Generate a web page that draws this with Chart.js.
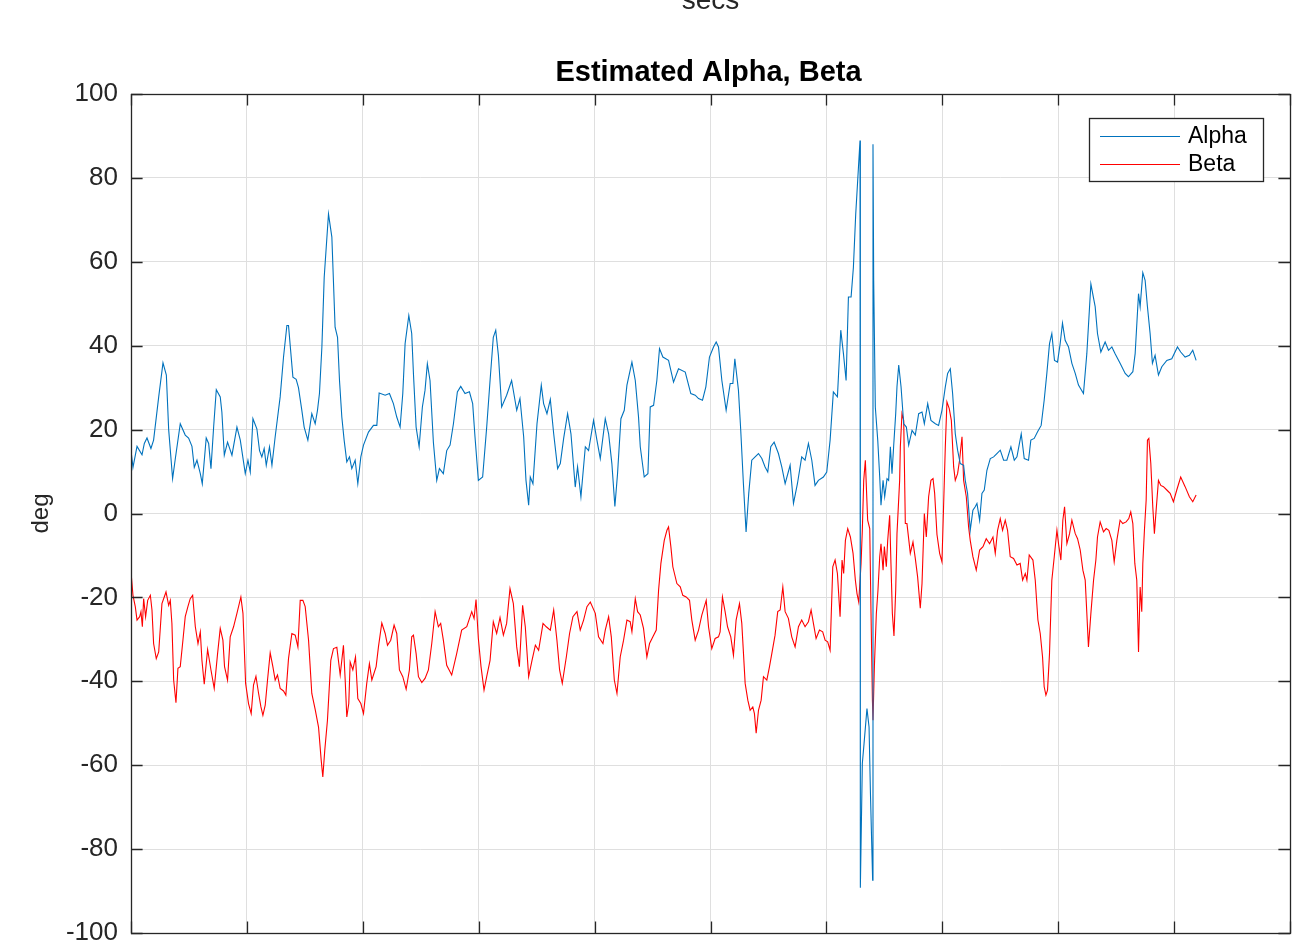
<!DOCTYPE html>
<html>
<head>
<meta charset="utf-8">
<title>Estimated Alpha, Beta</title>
<script src="https://cdn.jsdelivr.net/npm/chart.js@4.4.1/dist/chart.umd.min.js"></script>
<style>
    html, body { margin: 0; padding: 0; background: #fff; }
    #wrap { width: 1306px; height: 946px; }
</style>
</head>
<body>
<div id="wrap"><canvas id="graph" width="1306" height="946"></canvas></div>
<script>

// time (grid units, 10 per grid cell) and values in deg
const alphaT = [
    0, 0.17, 0.52, 0.95, 1.15, 1.38, 1.72, 1.95, 2.39, 2.76,
    3.05, 3.25, 3.59, 3.82, 4.25, 4.68, 4.97, 5.26, 5.46, 5.69,
    5.98, 6.15, 6.49, 6.70, 6.90, 7.13, 7.36, 7.70, 7.84, 8.05,
    8.33, 8.71, 9.14, 9.43, 9.86, 10.09, 10.29, 10.52, 10.86, 11.09,
    11.29, 11.49, 11.67, 11.95, 12.16, 12.44, 12.87, 13.16, 13.45, 13.59,
    13.97, 14.25, 14.45, 14.74, 14.94, 15.26, 15.60, 15.89, 16.09, 16.26,
    16.47, 16.67, 17.04, 17.33, 17.61, 17.82, 17.99, 18.19, 18.39, 18.62,
    18.85, 19.05, 19.34, 19.57, 19.83, 20.06, 20.49, 20.92, 21.21, 21.41,
    21.93, 22.30, 22.64, 22.93, 23.22, 23.45, 23.65, 23.97, 24.22, 24.37,
    24.60, 24.86, 25.14, 25.37, 25.57, 25.80, 26.09, 26.38, 26.61, 26.95,
    27.24, 27.53, 27.82, 28.16, 28.45, 28.82, 29.20, 29.48, 29.68, 29.97,
    30.34, 30.69, 30.98, 31.26, 31.47, 31.70, 31.98, 32.41, 32.84, 33.28,
    33.56, 33.88, 34.08, 34.31, 34.45, 34.68, 35.03, 35.40, 35.60, 35.89,
    36.18, 36.47, 36.81, 37.04, 37.33, 37.67, 37.96, 38.33, 38.53, 38.82,
    39.20, 39.48, 39.91, 40.20, 40.49, 40.92, 41.21, 41.49, 41.75, 41.98,
    42.27, 42.56, 42.79, 43.22, 43.51, 43.79, 43.94, 44.28, 44.60, 44.80,
    45.09, 45.37, 45.60, 45.89, 46.38, 46.81, 47.24, 47.82, 48.30, 48.68,
    48.97, 49.31, 49.60, 49.91, 50.26, 50.49, 50.69, 50.98, 51.35, 51.70,
    51.93, 52.10, 52.41, 52.61, 52.84, 53.07, 53.30, 53.56, 53.85, 54.14,
    54.43, 54.71, 54.94, 55.20, 55.49, 55.86, 56.15, 56.44, 56.87, 57.16,
    57.50, 57.87, 58.16, 58.45, 58.74, 59.02, 59.31, 59.74, 60.03, 60.32,
    60.60, 60.95, 61.24, 61.47, 61.70, 61.90, 62.13, 62.33, 62.53, 62.70,
    62.90, 62.93, 63.10, 63.25, 63.50, 63.68, 63.80, 63.99, 64.02, 64.08,
    64.22, 64.43, 64.60, 64.71, 64.89, 65.03, 65.23, 65.37, 65.52, 65.66,
    65.80, 65.98, 66.09, 66.24, 66.44, 66.67, 66.90, 67.10, 67.39, 67.67,
    67.96, 68.25, 68.45, 68.74, 69.02, 69.40, 69.68, 69.97, 70.26, 70.46,
    70.69, 70.89, 71.12, 71.32, 71.55, 71.84, 71.98, 72.18, 72.41, 72.64,
    72.84, 72.99, 73.22, 73.42, 73.62, 73.85, 74.14, 74.43, 74.71, 75.00,
    75.29, 75.57, 75.92, 76.21, 76.44, 76.81, 77.07, 77.44, 77.64, 77.93,
    78.22, 78.53, 78.79, 79.02, 79.25, 79.45, 79.68, 79.94, 80.17, 80.37,
    80.60, 80.89, 81.18, 81.47, 81.75, 82.18, 82.47, 82.82, 83.19, 83.39,
    83.68, 84.05, 84.34, 84.63, 84.91, 85.34, 85.78, 86.06, 86.44, 86.64,
    86.93, 87.07, 87.30, 87.50, 87.70, 87.93, 88.13, 88.36, 88.65, 88.94,
    89.37, 89.80, 90.29, 90.57, 90.95, 91.32, 91.61, 91.90
];
const alphaV = [
    15, 11, 16, 14, 16.7, 18, 15.5, 17.5, 27.8, 35.9,
    33, 20, 8.3, 13, 21.4, 18.7, 18, 16, 11, 12.7,
    9.5, 7.1, 18, 16.7, 10.7, 20.6, 29.5, 27.8, 24.2, 13.9,
    17, 13.9, 20.6, 17.5, 9.5, 12.7, 9.9, 22.6, 20.2, 15,
    13.5, 15.5, 11.5, 15.9, 11.5, 18.3, 27.8, 37.3, 44.8, 44.8,
    32.5, 32, 30, 24.6, 20.6, 17.5, 23.8, 21.4, 24.6, 28.6,
    39.7, 56.3, 71.4, 65.9, 44.4, 42, 31.7, 23, 17.5, 12.3,
    13.5, 10.7, 12.7, 7.1, 13.5, 16.3, 19.4, 21, 21, 28.7,
    28.2, 28.6, 26.2, 23, 20.6, 28.6, 40.5, 47.2, 42.9, 33.3,
    20.6, 15.9, 25.4, 29.4, 35.7, 31.7, 17, 7.9, 10.7, 9.5,
    15, 16.3, 21.4, 29, 30.3, 28.6, 29, 26.2, 18.3, 7.9,
    8.7, 20.6, 31.7, 42, 43.7, 37.7, 25.4, 28.2, 31.7, 24.6,
    27.4, 18.3, 7.9, 2, 8.7, 7.1, 21.4, 30.6, 26.2, 23.8,
    27.2, 19, 10.7, 11.9, 17.9, 23.8, 19, 6.3, 11.1, 4,
    15.9, 15, 22.2, 17.5, 13.1, 22.6, 19, 11.9, 1.7, 9.5,
    22.6, 24.6, 30.6, 36.1, 31.7, 23, 15.9, 8.7, 9.5, 25.4,
    25.8, 31.7, 39.3, 37.3, 36.5, 31.3, 34.5, 33.7, 28.6, 28.2,
    27.4, 27, 30.2, 37.3, 39.7, 40.9, 39.7, 31.7, 24.6, 31,
    31, 36.9, 29.4, 19.8, 7.1, -4.4, 4.8, 12.7, 13.5, 14.3,
    13.1, 11.1, 9.9, 15.9, 17, 14.3, 11.1, 7.1, 11.5, 2.4,
    7.1, 13.5, 12.7, 16.7, 12.7, 6.7, 7.9, 8.7, 9.9, 17.5,
    29, 27.8, 43.7, 38.1, 31.7, 51.6, 51.6, 58.7, 71.4, 79.4,
    88.9, -89.2, -59.6, -54.8, -46.5, -50.9, -66.7, -87.4, 88, 55.6,
    25.4, 17.5, 8.7, 2, 7.9, 4, 8.3, 7.9, 15.9, 9.5,
    15.9, 23.8, 30.2, 35.4, 30.2, 21.4, 20.6, 16.3, 19.8, 18.7,
    23.8, 24.2, 21.4, 26.2, 22.2, 21.4, 21, 24.6, 30.2, 33.4,
    34.5, 28.6, 19, 15.1, 11.9, 11.5, 7.9, 4.8, -4, 0.8,
    1.6, 2.4, -1.6, 4.8, 5.6, 10.3, 13.1, 13.5, 14.3, 15.1,
    12.7, 12.7, 15.9, 12.7, 13.5, 19, 13.1, 12.7, 17.5, 17.9,
    19.5, 21, 27, 33.4, 40.5, 42.9, 36.5, 36.1, 40.5, 45.4,
    41.3, 39.7, 35.8, 33.4, 30.6, 28.6, 38.1, 54.7, 49.3, 42.9,
    38.5, 40.9, 38.9, 39.7, 38.1, 35.8, 33.4, 32.6, 33.8, 38.1,
    52.4, 49.3, 57.4, 55.6, 49.3, 42.9, 35.8, 37.7, 33, 35,
    36.5, 36.9, 39.7, 38.5, 37.3, 37.7, 38.9, 36.5
];

const betaT = [
    0, 0.17, 0.37, 0.52, 0.75, 0.86, 0.98, 1.09, 1.26, 1.44,
    1.67, 1.81, 1.95, 2.18, 2.39, 2.67, 3.02, 3.25, 3.39, 3.53,
    3.68, 3.88, 4.05, 4.25, 4.48, 4.68, 4.91, 5.11, 5.32, 5.55,
    5.78, 5.98, 6.12, 6.32, 6.61, 6.90, 7.18, 7.47, 7.70, 7.93,
    8.07, 8.33, 8.56, 8.85, 9.14, 9.48, 9.66, 9.89, 10.14, 10.37,
    10.57, 10.78, 11.01, 11.21, 11.38, 11.58, 11.78, 12.01, 12.24, 12.44,
    12.64, 12.87, 13.16, 13.36, 13.59, 13.88, 14.17, 14.40, 14.60, 14.83,
    15.03, 15.32, 15.60, 15.89, 16.18, 16.41, 16.55, 16.72, 16.95, 17.24,
    17.47, 17.76, 18.05, 18.33, 18.48, 18.62, 18.79, 18.91, 19.14, 19.37,
    19.57, 19.83, 20.06, 20.34, 20.57, 20.78, 21.15, 21.35, 21.64, 21.93,
    22.13, 22.41, 22.70, 22.93, 23.16, 23.45, 23.74, 24.02, 24.22, 24.37,
    24.60, 24.80, 25.09, 25.37, 25.66, 25.95, 26.24, 26.52, 26.72, 26.95,
    27.24, 27.67, 28.10, 28.53, 28.97, 29.40, 29.60, 29.77, 29.97, 30.20,
    30.46, 30.69, 30.98, 31.26, 31.55, 31.84, 32.13, 32.41, 32.70, 32.99,
    33.28, 33.51, 33.79, 34.02, 34.31, 34.60, 34.89, 35.17, 35.55, 35.83,
    36.18, 36.47, 36.75, 36.98, 37.21, 37.56, 37.84, 38.13, 38.48, 38.76,
    39.05, 39.34, 39.63, 40.06, 40.34, 40.72, 40.92, 41.21, 41.44, 41.70,
    41.93, 42.21, 42.50, 42.79, 43.07, 43.22, 43.51, 43.71, 43.94, 44.22,
    44.51, 44.74, 45.03, 45.32, 45.52, 45.72, 46.01, 46.24, 46.38, 46.58,
    46.75, 47.10, 47.39, 47.61, 47.90, 48.19, 48.39, 48.68, 48.97, 49.25,
    49.63, 49.83, 50.11, 50.40, 50.69, 50.83, 51.03, 51.26, 51.47, 51.75,
    51.98, 52.21, 52.50, 52.70, 52.99, 53.22, 53.42, 53.65, 53.79, 53.94,
    54.14, 54.37, 54.57, 54.86, 55.09, 55.29, 55.57, 55.80, 56.01, 56.24,
    56.44, 56.72, 57.01, 57.30, 57.59, 57.87, 58.16, 58.45, 58.68, 58.88,
    59.11, 59.40, 59.68, 59.89, 60.11, 60.32, 60.55, 60.75, 60.95, 61.18,
    61.35, 61.49, 61.64, 61.84, 62.07, 62.30, 62.50, 62.64, 62.79, 62.99,
    63.10, 63.22, 63.36, 63.56, 63.74, 63.85, 63.97, 64.02, 64.14, 64.31,
    64.45, 64.60, 64.71, 64.89, 65.00, 65.17, 65.29, 65.46, 65.57, 65.69,
    65.83, 65.98, 66.09, 66.32, 66.38, 66.52, 66.67, 66.81, 66.95, 67.24,
    67.47, 67.67, 67.87, 68.10, 68.25, 68.45, 68.62, 68.82, 69.02, 69.20,
    69.34, 69.54, 69.77, 69.97, 70.11, 70.26, 70.40, 70.60, 70.78, 70.98,
    71.12, 71.32, 71.49, 71.70, 71.84, 72.07, 72.27, 72.41, 72.64, 72.93,
    73.22, 73.51, 73.79, 74.08, 74.37, 74.57, 74.77, 75.00, 75.20, 75.43,
    75.63, 75.86, 76.15, 76.44, 76.72, 76.93, 77.16, 77.30, 77.50, 77.82,
    78.02, 78.25, 78.45, 78.65, 78.79, 78.94, 79.08, 79.25, 79.45, 79.66,
    79.89, 80.03, 80.23, 80.40, 80.55, 80.75, 80.98, 81.18, 81.47, 81.67,
    81.90, 82.13, 82.33, 82.47, 82.61, 82.82, 83.05, 83.25, 83.39, 83.62,
    83.91, 84.14, 84.37, 84.63, 84.83, 85.06, 85.34, 85.57, 85.86, 86.09,
    86.26, 86.44, 86.61, 86.78, 86.93, 87.07, 87.21, 87.30, 87.44, 87.59,
    87.70, 87.82, 87.99, 88.16, 88.30, 88.45, 88.65, 88.85, 89.08, 89.37,
    89.66, 89.94, 90.23, 90.57, 90.95, 91.32, 91.61, 91.90
];
const betaV = [
    -13.9, -19.5, -22.2, -25.4, -24.6, -23.4, -27, -20.3, -24.6, -20.7,
    -19.5, -23, -31, -34.6, -33, -21.5, -18.7, -21.9, -20.7, -26.2,
    -39.7, -45.1, -36.9, -36.5, -30.2, -24.6, -22.2, -20.3, -19.5, -27,
    -31, -28.2, -35, -40.7, -32.4, -37.3, -41.7, -33.4, -27.4, -30.2,
    -36.5, -39.7, -29.4, -27, -23.8, -19.9, -23.8, -40.5, -45.3, -47.7,
    -40.9, -38.8, -42.9, -46.1, -48.1, -45.7, -39.7, -33.2, -36.5, -39.7,
    -38.5, -41.7, -42.3, -43.3, -34.6, -28.6, -29, -31.8, -20.7, -20.7,
    -22.2, -30.2, -42.9, -46.7, -50.9, -58.8, -62.8, -56.4, -49.3, -35,
    -32.2, -31.9, -38.5, -31.4, -39.7, -48.5, -45.3, -35.4, -37.3, -34.2,
    -44.1, -45.3, -47.7, -40.5, -35.8, -39.7, -36.5, -31.8, -26.1, -28.6,
    -31.4, -30.2, -26.6, -28.6, -37.3, -38.9, -41.9, -37.3, -29.4, -29,
    -33.4, -38.9, -40.3, -39.3, -37.3, -31, -23.4, -27, -26.2, -30.2,
    -36.2, -38.5, -33.4, -27.8, -27, -23.4, -25, -20.5, -29.8, -36.5,
    -42.1, -38.9, -35, -25.8, -28.6, -24.8, -29, -26.2, -17.9, -21.5,
    -31.8, -36.5, -21.9, -27, -38.9, -35, -31.4, -32.6, -26.2, -27,
    -27.8, -23, -30.2, -37.3, -40.5, -34.2, -28.6, -24.6, -23.4, -27.8,
    -25.4, -22.2, -21.1, -23.8, -29.4, -31, -27.8, -24.6, -29.4, -39.7,
    -42.9, -34.2, -30.2, -25.4, -25.8, -28.2, -20.3, -23.4, -24.2, -27.4,
    -34.2, -31, -29.4, -27.8, -18.3, -11.9, -6.4, -4, -3.2, -7.9,
    -12.7, -16.7, -17.5, -19.5, -19.9, -20.7, -25.4, -30.2, -27.8, -24.2,
    -20.7, -27, -32.2, -29.8, -29.4, -28.2, -19.9, -23.4, -27, -29.4,
    -33.8, -25.4, -21.5, -26.2, -40.5, -44.5, -46.9, -46.1, -47.7, -52.4,
    -46.9, -44.5, -38.9, -39.7, -36.5, -33.4, -29, -23.4, -23, -17.5,
    -23.4, -25, -29.4, -31.8, -27, -25.4, -27, -25.8, -23, -26.2,
    -29.8, -27.8, -28.2, -30.2, -30.6, -32.6, -12.7, -11.1, -14.3, -24.6,
    -11.1, -14.3, -6.4, -3.6, -5.6, -9.5, -15.9, -19.1, -21.1, -11.9,
    -4, 7.9, 12.7, -1.6, -3.6, -23.8, -44.5, -49.3, -36.5, -23.8,
    -18.3, -10.3, -7.2, -13.5, -7.9, -12.7, -6.4, -0.4, -11.9, -23.8,
    -29.2, -18.3, -4.8, 7.9, 15.9, 23.8, 22.2, -2.4, -2.4, -9.5,
    -6.8, -10.7, -15.1, -22.6, -16.7, 0, -5.6, 4, 7.9, 8.3,
    4.8, -5, -9.5, -11.5, 1.6, 15.9, 26.6, 25, 22.2, 11.1,
    7.9, 9.5, 12.7, 18.3, 7.9, 4, -3.2, -6.4, -10.3, -13.5,
    -8.7, -7.9, -6, -7.2, -5.6, -9.5, -4, -1.2, -4, -1.6,
    -4, -10.3, -10.7, -12.3, -11.9, -15.9, -14.3, -15.9, -9.9, -11.1,
    -15.9, -25.4, -28.6, -34.2, -41.3, -43.3, -42.1, -33.4, -15.9, -10.3,
    -4, -7.2, -11.1, -1.6, 1.6, -7.2, -4.8, -1.6, -4.8, -6,
    -8.7, -13.5, -15.9, -23.8, -31.8, -23.8, -15.9, -11.1, -5.6, -2,
    -4.4, -3.6, -4, -6.4, -11.5, -6.4, -1.6, -2.4, -2, -1.2,
    0.4, -2.4, -11.9, -15.9, -33, -17.5, -23.4, -11.9, -4, 3.2,
    17.5, 17.9, 11.9, 1.6, -4.8, 0.8, 7.9, 6.7, 6.4, 5.6,
    4.8, 2.8, 5.6, 8.7, 6.4, 4, 2.8, 4.4
];

const seriesNames = ['Alpha', 'Beta'];
const seriesColors = ['#0072BD', '#FF0000'];
const yTicks = [-100, -80, -60, -40, -20, 0, 20, 40, 60, 80, 100];
const xTicks = [0, 10, 20, 30, 40, 50, 60, 70, 80, 90, 100];

const fontFam = "'Liberation Sans', Arial, Helvetica, sans-serif";
const axisColor = '#262626';

function toPoints(ts, vs) {
    return ts.map((t, i) => ({ x: t, y: vs[i] }));
}

// box, inward ticks, legend, labels (matlab look)
const matlabFrame = {
    id: 'matlabFrame',
    afterDatasetsDraw(chart) {
        let ctx = chart.ctx;
        let a = chart.chartArea;
        let xs = chart.scales.x;
        let ys = chart.scales.y;
        let tl = 11.6;
        ctx.save();
        ctx.strokeStyle = axisColor;
        ctx.lineWidth = 1.3;
        ctx.beginPath();
        yTicks.forEach(v => {
            let py = Math.round(ys.getPixelForValue(v)) + 0.5;
            ctx.moveTo(a.left, py); ctx.lineTo(a.left + tl, py);
            ctx.moveTo(a.right, py); ctx.lineTo(a.right - tl, py);
        });
        xTicks.forEach(v => {
            let px = Math.round(xs.getPixelForValue(v)) + 0.5;
            ctx.moveTo(px, a.top); ctx.lineTo(px, a.top + tl);
            ctx.moveTo(px, a.bottom); ctx.lineTo(px, a.bottom - tl);
        });
        ctx.stroke();
        ctx.strokeRect(a.left + 0.5, a.top + 0.5, a.right - a.left, a.bottom - a.top);
        ctx.restore();
    },
    afterDraw(chart) {
        let ctx = chart.ctx;
        let a = chart.chartArea;
        ctx.save();

        // title
        ctx.fillStyle = '#000';
        ctx.font = 'bold 29px ' + fontFam;
        ctx.textAlign = 'center';
        ctx.textBaseline = 'alphabetic';
        ctx.fillText('Estimated Alpha, Beta', (a.left + a.right) / 2 - 2, 81);

        // x label of the plot above, cut off by the page
        ctx.fillStyle = axisColor;
        ctx.font = '28px ' + fontFam;
        ctx.fillText('secs', (a.left + a.right) / 2, 9);

        // y label
        ctx.save();
        ctx.font = '24px ' + fontFam;
        ctx.translate(41, (a.top + a.bottom) / 2);
        ctx.rotate(-Math.PI / 2);
        ctx.textBaseline = 'middle';
        ctx.fillText('deg', 0, 0);
        ctx.restore();

        // legend
        let lx = 1089.5, ly = 118.5, lw = 174, lh = 63;
        ctx.fillStyle = '#fff';
        ctx.fillRect(lx, ly, lw, lh);
        ctx.strokeStyle = axisColor;
        ctx.lineWidth = 1.3;
        ctx.strokeRect(lx, ly, lw, lh);
        ctx.font = '23px ' + fontFam;
        ctx.textAlign = 'left';
        ctx.textBaseline = 'middle';
        let rows = [136, 164];
        for (let i = 0; i < seriesNames.length; i++) {
            ctx.strokeStyle = seriesColors[i];
            ctx.lineWidth = 1;
            ctx.beginPath();
            ctx.moveTo(1100, rows[i] + 0.5);
            ctx.lineTo(1180, rows[i] + 0.5);
            ctx.stroke();
            ctx.fillStyle = '#000';
            ctx.fillText(seriesNames[i], 1188, rows[i] + 1);
        }
        ctx.restore();
    }
};

let idCollector = document.querySelector('#graph').getContext('2d');

const formatChart = new Chart(idCollector, {
    type: 'line',
    data: {
        datasets: [
            {
                label: seriesNames[0],
                data: toPoints(alphaT, alphaV),
                borderColor: seriesColors[0],
                borderWidth: 1.1,
                pointRadius: 0,
                tension: 0
            },
            {
                label: seriesNames[1],
                data: toPoints(betaT, betaV),
                borderColor: seriesColors[1],
                borderWidth: 1.1,
                pointRadius: 0,
                tension: 0
            }
        ]
    },
    options: {
        responsive: false,
        animation: false,
        devicePixelRatio: 1,
        layout: { padding: { top: 94, right: 16, bottom: 0, left: 0 } },
        scales: {
            x: {
                type: 'linear',
                min: 0,
                max: 100,
                afterBuildTicks: (s) => { s.ticks = xTicks.map(v => ({ value: v })); },
                afterFit: (s) => {
                    s.height = 13;
                    s.paddingLeft = 0; s.paddingRight = 0;
                },
                ticks: { display: false },
                grid: { color: '#dfdfdf', drawTicks: false },
                border: { display: false }
            },
            y: {
                min: -100,
                max: 100,
                afterBuildTicks: (s) => { s.ticks = yTicks.map(v => ({ value: v })); },
                afterFit: (s) => {
                    s.width = 131;
                    s.paddingTop = 0; s.paddingBottom = 0;
                },
                ticks: {
                    color: axisColor,
                    padding: 13,
                    font: { family: fontFam, size: 26 }
                },
                grid: { color: '#dfdfdf', drawTicks: false },
                border: { display: false }
            }
        },
        plugins: {
            legend: { display: false },
            title: { display: false },
            tooltip: { enabled: false }
        }
    },
    plugins: [matlabFrame]
});
</script>
</body>
</html>
